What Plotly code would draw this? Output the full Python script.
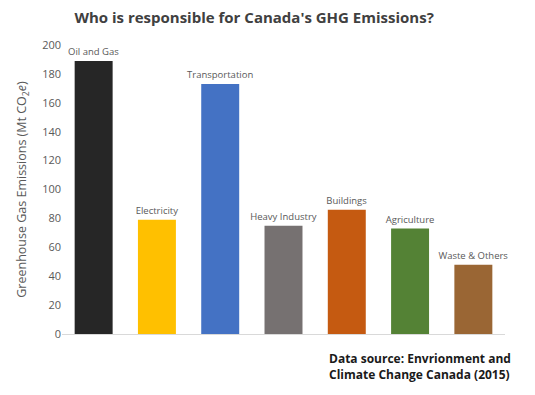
import plotly.graph_objects as go

categories = ["Oil and Gas", "Electricity", "Transportation", "Heavy Industry",
              "Buildings", "Agriculture", "Waste & Others"]
emissions = [189, 79, 173, 75, 86, 73, 48]
colors = ["#262626", "#FFC000", "#4472C4", "#767171", "#C55A11", "#548235", "#9A6634"]
y_ticks = [0, 20, 40, 60, 80, 100, 120, 140, 160, 180, 200]

fig = go.Figure(go.Bar(
    x=categories, y=emissions, marker_color=colors, marker_line_width=0,
    text=categories, textposition="outside", cliponaxis=False,
    textfont=dict(family="Open Sans", size=9.5, color="#595959"),
))

fig.update_layout(
    width=535, height=395,
    margin=dict(l=62, r=30, t=45, b=61),
    plot_bgcolor="white", paper_bgcolor="white",
    bargap=0.40, showlegend=False,
    uniformtext=dict(minsize=9.5, mode="show"),
    font=dict(family="Open Sans", color="#595959"),
    title=dict(text="<b>Who is responsible for Canada's GHG Emissions?</b>",
               x=0.475, xanchor="center", y=0.955, yanchor="middle",
               font=dict(family="Open Sans", size=15, color="#404040")),
    annotations=[dict(
        text="<b>Data source: Envrionment and<br>Climate Change Canada (2015)</b>",
        xref="paper", yref="paper", x=1.0, xshift=8, y=-0.05, xanchor="right", yanchor="top",
        align="left", showarrow=False,
        font=dict(family="Open Sans", size=12, color="#1a1a1a"))],
)
fig.update_xaxes(showticklabels=False, showline=True, linecolor="#d9d9d9",
                 linewidth=1, ticks="", showgrid=False)
fig.update_yaxes(range=[0, 200], tickvals=y_ticks, showgrid=False, zeroline=False,
                 showline=False, tickfont=dict(size=11, color="#595959"),
                 title=dict(text="Greenhouse Gas Emissions (Mt CO<sub>2</sub><i>e</i>)",
                            font=dict(size=12.5, color="#595959"), standoff=12))

fig.write_html("out.html", config={"displayModeBar": False},
               post_script="document.body.style.margin='0';")
